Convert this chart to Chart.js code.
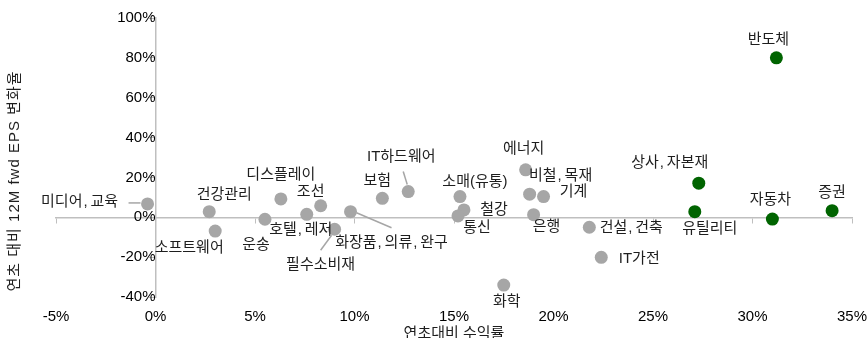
<!DOCTYPE html>
<html><head><meta charset="utf-8">
<script src="https://cdn.jsdelivr.net/npm/chart.js@4.4.1/dist/chart.umd.min.js"></script>
<style>html,body{margin:0;padding:0;background:#fff;}</style>
</head><body>
<canvas id="c" width="867" height="338"></canvas>
<script>
// ---- data ----
const otherSectors = ['미디어,교육','건강관리','소프트웨어','운송','디스플레이','호텔,레저','조선','필수소비재','화장품,의류,완구','보험','IT하드웨어','소매(유통)','철강','통신','에너지','비철,목재','기계','은행','건설,건축','IT가전','화학'];
const otherReturn = [-0.4, 2.7, 3.0, 5.5, 6.3, 7.6, 8.3, 9.0, 9.8, 11.4, 12.7, 15.3, 15.5, 15.2, 18.6, 18.8, 19.5, 19.0, 21.8, 22.4, 17.5];
const otherEpsChange = [6.7, 2.8, -6.9, -1.0, 9.2, 1.5, 5.8, -6.0, 2.8, 9.5, 12.9, 10.4, 3.7, 0.7, 23.8, 11.6, 10.4, 1.3, -5.0, -20.1, -34.0];
const leadSectors = ['반도체','상사,자본재','유틸리티','자동차','증권'];
const leadReturn = [31.2, 27.3, 27.1, 31.0, 34.0];
const leadEpsChange = [80.0, 17.1, 2.8, -0.9, 3.3];
const xTickLabels = ['-5%','0%','5%','10%','15%','20%','25%','30%','35%'];
const yTickLabels = ['-40%','-20%','0%','20%','40%','60%','80%','100%'];
const xTitle = '연초대비 수익률';
const yTitle = '연초 대비 12M fwd EPS 변화율';

// ---- label placement (style, pixels relative to each point) ----
const labelOffsets = {
  '미디어,교육':[-68,-2],'건강관리':[15,-17],'소프트웨어':[-26,17],'운송':[-9,26],'디스플레이':[0,-24],
  '호텔,레저':[-6,16],'조선':[-10,-14],'필수소비재':[-14,36],'화장품,의류,완구':[41,31],'보험':[-5,-17],
  'IT하드웨어':[-7,-35],'소매(유통)':[15,-15],'철강':[30,0],'통신':[19,12],'에너지':[-2,-21],
  '비철,목재':[31,-18],'기계':[30,-5],'은행':[13,12],'건설,건축':[42,1],'IT가전':[38,2],'화학':[3,17],
  '반도체':[-8,-18],'상사,자본재':[-29,-20],'유틸리티':[15,17],'자동차':[-2,-19],'증권':[0,-18]
};
const leaderLines = {
  '미디어,교육':[-19,-1,-7,-1],
  '필수소비재':[-14,21,-3,6],
  '화장품,의류,완구':[6,1,41,16],
  'IT하드웨어':[-5,-20,-1,-7]
};

const FONT = '"Liberation Sans", "Noto Sans CJK KR", sans-serif';
const AXIS = '#bfbfbf';
const COMMA_ADV = 8;

// draw centred text where commas take a slightly wider advance (as in the reference font)
function drawLabel(ctx, text, cx, cy) {
  const parts = text.split(',');
  let total = 0;
  parts.forEach((p, i) => { total += ctx.measureText(p).width; if (i < parts.length - 1) total += COMMA_ADV; });
  let x = cx - total / 2;
  ctx.textAlign = 'left';
  parts.forEach((p, i) => {
    ctx.fillText(p, x, cy);
    x += ctx.measureText(p).width;
    if (i < parts.length - 1) { ctx.fillText(',', x + 1, cy); x += COMMA_ADV; }
  });
}

const labelPlugin = {
  id: 'pointLabels',
  afterDatasetsDraw(chart) {
    const ctx = chart.ctx;
    ctx.save();
    ctx.font = '15px ' + FONT;
    ctx.fillStyle = '#1e1e1e';
    ctx.textBaseline = 'middle';
    chart.data.datasets.forEach((ds, di) => {
      const meta = chart.getDatasetMeta(di);
      meta.data.forEach((el, i) => {
        const name = ds.names[i];
        const off = labelOffsets[name] || [0, -16];
        drawLabel(ctx, name, el.x + off[0], el.y + off[1]);
        const ll = leaderLines[name];
        if (ll) {
          ctx.beginPath();
          ctx.moveTo(el.x + ll[0], el.y + ll[1]);
          ctx.lineTo(el.x + ll[2], el.y + ll[3]);
          ctx.strokeStyle = '#a6a6a6';
          ctx.lineWidth = 1.5;
          ctx.stroke();
        }
      });
    });
    ctx.restore();
  }
};

const yTitlePlugin = {
  id: 'yTitle',
  afterDraw(chart) {
    const ctx = chart.ctx;
    ctx.save();
    ctx.translate(15, 181);
    ctx.rotate(-Math.PI / 2);
    ctx.font = '15px ' + FONT;
    if ('letterSpacing' in ctx) ctx.letterSpacing = '1px';
    ctx.fillStyle = '#1e1e1e';
    ctx.textAlign = 'center';
    ctx.textBaseline = 'middle';
    ctx.fillText(yTitle, 0, 0);
    ctx.restore();
  }
};

new Chart(document.getElementById('c'), {
  type: 'scatter',
  data: {
    datasets: [
      {
        names: otherSectors,
        data: otherReturn.map((x, i) => ({x: x, y: otherEpsChange[i]})),
        backgroundColor: '#a6a6a6',
        borderWidth: 0,
        pointRadius: 6.5
      },
      {
        names: leadSectors,
        data: leadReturn.map((x, i) => ({x: x, y: leadEpsChange[i]})),
        backgroundColor: '#006400',
        borderWidth: 0,
        pointRadius: 6.5
      }
    ]
  },
  options: {
    responsive: false,
    animation: false,
    devicePixelRatio: 1,
    layout: {padding: {left: 56, right: 15, top: 18, bottom: 0}},
    plugins: {legend: {display: false}, tooltip: {enabled: false}},
    scales: {
      x: {
        type: 'linear', position: 'bottom', min: -5, max: 35,
        ticks: {stepSize: 5, autoSkip: false, maxRotation: 0, padding: 11,
          callback: (v, i) => xTickLabels[i], color: '#000', font: {family: FONT, size: 15}},
        grid: {display: false, drawTicks: false},
        border: {display: false},
        title: {display: true, text: xTitle, color: '#1e1e1e', font: {family: FONT, size: 15}, padding: {top: 0, bottom: -5}},
        afterFit(s) { s.height = 41; s.paddingLeft = 0; s.paddingRight = 0; }
      },
      x0: {
        type: 'linear', axis: 'x', position: {y: 0}, min: -5, max: 35,
        ticks: {display: false, stepSize: 5},
        grid: {display: true, drawOnChartArea: false, drawTicks: true, tickLength: 5, color: AXIS, lineWidth: 1},
        border: {display: true, color: AXIS, width: 1.5},
        afterFit(s) { s.height = 0; s.paddingLeft = 0; s.paddingRight = 0; }
      },
      y: {
        type: 'linear', position: {x: 0}, min: -40, max: 100,
        ticks: {stepSize: 20, padding: 13, callback: (v, i) => yTickLabels[i], color: '#000', font: {family: FONT, size: 15}},
        grid: {display: true, drawOnChartArea: false, drawTicks: true, tickLength: 6, color: AXIS, lineWidth: 1},
        border: {display: true, color: AXIS, width: 1.5},
        afterFit(s) { s.width = 0; s.paddingTop = 0; s.paddingBottom = 0; }
      }
    }
  },
  plugins: [labelPlugin, yTitlePlugin]
});
</script>
</body></html>
